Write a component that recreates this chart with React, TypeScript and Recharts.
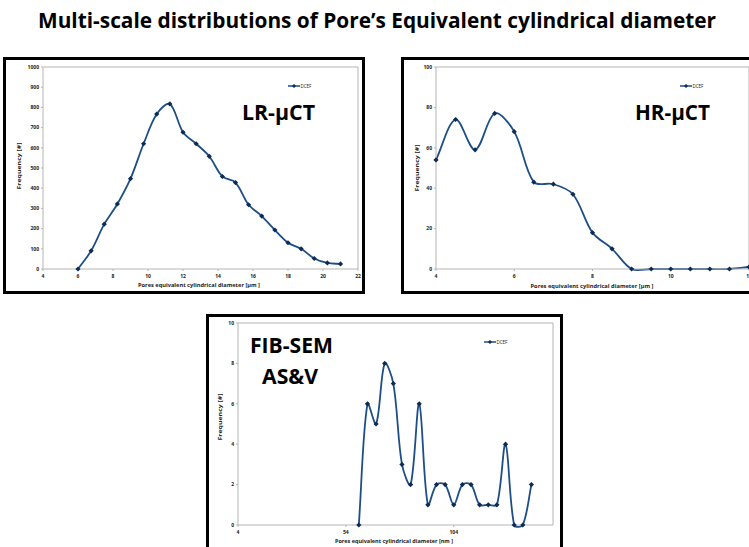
import { LineChart, Line, XAxis, YAxis, ReferenceLine } from "recharts";

// LR-µCT
const lrDiameter = [6, 6.75, 7.5, 8.25, 9, 9.75, 10.5, 11.25, 12, 12.75, 13.5, 14.25, 15, 15.75, 16.5, 17.25, 18, 18.75, 19.5, 20.25, 21];
const lrFrequency = [0, 90, 222, 322, 447, 620, 767, 817, 677, 620, 558, 458, 428, 318, 262, 193, 130, 100, 52, 30, 25];
const lrXTicks = [4, 6, 8, 10, 12, 14, 16, 18, 20, 22];
const lrYTicks = [0, 100, 200, 300, 400, 500, 600, 700, 800, 900, 1000];

// HR-µCT
const hrDiameter = [4, 4.5, 5, 5.5, 6, 6.5, 7, 7.5, 8, 8.5, 9, 9.5, 10, 10.5, 11, 11.5, 12];
const hrFrequency = [54, 74, 59, 77, 68, 43, 42, 37, 18, 10, 0, 0, 0, 0, 0, 0, 1];
const hrXTicks = [4, 6, 8, 10, 12];
const hrYTicks = [0, 20, 40, 60, 80, 100];

// FIB-SEM AS&V
const fibDiameter = [60, 64, 68, 72, 76, 80, 84, 88, 92, 96, 100, 104, 108, 112, 116, 120, 124, 128, 132, 136, 140];
const fibFrequency = [0, 6, 5, 8, 7, 3, 2, 6, 1, 2, 2, 1, 2, 2, 1, 1, 1, 4, 0, 0, 2];
const fibXTicks = [4, 54, 104];
const fibYTicks = [0, 2, 4, 6, 8, 10];

const LINE = "#1d4f86";
const MARKER = "#0f2b52";
const FRAME = "#b5b5b5";
const TEXT = "#222";
const FONT = "'Open Sans', 'Liberation Sans', sans-serif";

const toRows = (xs: number[], ys: number[]) => xs.map((x, i) => ({ x, y: ys[i] }));

const dist = (a: number[], b: number[]) => Math.hypot(b[0] - a[0], b[1] - a[1]) || 1e-6;

// Excel-like smoothed line: tangents scaled by neighbouring segment lengths
const excelSmooth = (context: any) => {
  let pts: number[][] = [];
  return {
    areaStart() {},
    areaEnd() {},
    lineStart() {
      pts = [];
    },
    point(x: number, y: number) {
      pts.push([+x, +y]);
    },
    lineEnd() {
      const n = pts.length;
      if (!n) return;
      context.moveTo(pts[0][0], pts[0][1]);
      for (let i = 0; i < n - 1; i++) {
        const p0 = pts[Math.max(i - 1, 0)];
        const p1 = pts[i];
        const p2 = pts[i + 1];
        const p3 = pts[Math.min(i + 2, n - 1)];
        const d01 = i > 0 ? dist(p0, p1) : 0;
        const d12 = dist(p1, p2);
        const d23 = i + 2 < n ? dist(p2, p3) : 0;
        const f1 = d12 / (d01 + d12) / 3;
        const f2 = d12 / (d12 + d23) / 3;
        context.bezierCurveTo(
          p1[0] + (p2[0] - p0[0]) * f1,
          p1[1] + (p2[1] - p0[1]) * f1,
          p2[0] - (p3[0] - p1[0]) * f2,
          p2[1] - (p3[1] - p1[1]) * f2,
          p2[0],
          p2[1]
        );
      }
    },
  };
};

const diamond = (props: any) => {
  const { cx, cy, index } = props;
  if (cx == null || cy == null) return <g key={`d-${index}`} />;
  const r = 2.6;
  return (
    <path
      key={`d-${index}`}
      d={`M${cx},${cy - r}L${cx + r},${cy}L${cx},${cy + r}L${cx - r},${cy}Z`}
      fill={MARKER}
    />
  );
};

const tickStyle = { fontSize: 5, fill: TEXT, fontWeight: 700, fontFamily: FONT };

interface PoreChartProps {
  left: number;
  top: number;
  width: number;
  height: number;
  yAxisWidth: number;
  margin: { top: number; right: number; bottom: number; left: number };
  xDomain: [number, number];
  xTicks: number[];
  yTicks: number[];
  rows: { x: number; y: number }[];
}

function PoreChart({ left, top, width, height, yAxisWidth, margin, xDomain, xTicks, yTicks, rows }: PoreChartProps) {
  const yMax = yTicks[yTicks.length - 1];
  return (
    <div style={{ position: "absolute", left, top }}>
      <LineChart width={width} height={height} data={rows} margin={margin}>
        <ReferenceLine y={yMax} stroke={FRAME} strokeWidth={1} />
        <ReferenceLine x={xDomain[1]} stroke={FRAME} strokeWidth={1} />
        <XAxis
          type="number"
          dataKey="x"
          domain={xDomain}
          ticks={xTicks}
          interval={0}
          height={12}
          tickSize={2}
          tickMargin={3}
          tick={tickStyle}
          stroke={FRAME}
        />
        <YAxis
          type="number"
          domain={[0, yMax]}
          ticks={yTicks}
          interval={0}
          width={yAxisWidth}
          tickSize={2}
          tickMargin={2}
          tick={tickStyle}
          stroke={FRAME}
        />
        <Line
          type={excelSmooth as any}
          dataKey="y"
          stroke={LINE}
          strokeWidth={1.8}
          dot={diamond}
          activeDot={false}
          isAnimationActive={false}
        />
      </LineChart>
    </div>
  );
}

function LegendMark({ x, y }: { x: number; y: number }) {
  return (
    <g>
      <line x1={x} y1={y} x2={x + 12} y2={y} stroke={LINE} strokeWidth={1.5} />
      <path d={`M${x + 6},${y - 2}L${x + 8},${y}L${x + 6},${y + 2}L${x + 4},${y}Z`} fill={MARKER} />
      <text x={x + 12.5} y={y + 1.6} fontSize={4.5} fill={TEXT} fontFamily={FONT}>
        DCEF
      </text>
    </g>
  );
}

const panelBorder = (left: number, top: number, width: number, height: number) => (
  <div
    style={{
      position: "absolute",
      left,
      top,
      width,
      height,
      border: "3px solid #000",
      boxSizing: "border-box",
      background: "#fff",
    }}
  />
);

export default function App() {
  return (
    <div
      style={{
        position: "fixed",
        left: 0,
        top: 0,
        width: 749,
        height: 547,
        overflow: "hidden",
        background: "#fff",
      }}
    >
      {panelBorder(3, 57, 362, 237)}
      {panelBorder(401, 57, 400, 237)}
      {panelBorder(206, 314, 357, 260)}

      <PoreChart
        left={6}
        top={60}
        width={357}
        height={232}
        yAxisWidth={37}
        margin={{ top: 7, right: 5, bottom: 11, left: 0 }}
        xDomain={[4, 22]}
        xTicks={lrXTicks}
        yTicks={lrYTicks}
        rows={toRows(lrDiameter, lrFrequency)}
      />
      <PoreChart
        left={403}
        top={60}
        width={351}
        height={232}
        yAxisWidth={33}
        margin={{ top: 7, right: 5, bottom: 11, left: 0 }}
        xDomain={[4, 12]}
        xTicks={hrXTicks}
        yTicks={hrYTicks}
        rows={toRows(hrDiameter, hrFrequency)}
      />
      <PoreChart
        left={209}
        top={317}
        width={352}
        height={230}
        yAxisWidth={29}
        margin={{ top: 6, right: 8, bottom: 10, left: 0 }}
        xDomain={[4, 150]}
        xTicks={fibXTicks}
        yTicks={fibYTicks}
        rows={toRows(fibDiameter, fibFrequency)}
      />

      <svg
        width={749}
        height={547}
        style={{ position: "absolute", left: 0, top: 0, pointerEvents: "none" }}
      >
        <text
          x={38}
          y={28}
          fontSize={21}
          fontWeight={700}
          fontFamily={FONT}
          fill="#000"
          textLength={678}
          lengthAdjust="spacingAndGlyphs"
        >
          Multi-scale distributions of Pore’s Equivalent cylindrical diameter
        </text>

        <text x={242} y={120} fontSize={22} fontWeight={700} fontFamily={FONT} textLength={73} lengthAdjust="spacingAndGlyphs">
          LR-μCT
        </text>
        <text x={635} y={120} fontSize={22} fontWeight={700} fontFamily={FONT} textLength={75} lengthAdjust="spacingAndGlyphs">
          HR-μCT
        </text>
        <text x={250} y={353} fontSize={22} fontWeight={700} fontFamily={FONT} textLength={83} lengthAdjust="spacingAndGlyphs">
          FIB-SEM
        </text>
        <text x={262} y={384} fontSize={22} fontWeight={700} fontFamily={FONT} textLength={56} lengthAdjust="spacingAndGlyphs">
          AS&amp;V
        </text>

        <LegendMark x={288} y={86} />
        <LegendMark x={680} y={86} />
        <LegendMark x={484} y={342} />

        <text x={199} y={287} fontSize={6} fontWeight={700} fontFamily={FONT} fill={TEXT} textAnchor="middle" textLength={122} lengthAdjust="spacingAndGlyphs">
          Pores equivalent cylindrical diameter [µm ]
        </text>
        <text x={592} y={288} fontSize={6} fontWeight={700} fontFamily={FONT} fill={TEXT} textAnchor="middle" textLength={123} lengthAdjust="spacingAndGlyphs">
          Pores equivalent cylindrical diameter [µm ]
        </text>
        <text x={394} y={543} fontSize={6} fontWeight={700} fontFamily={FONT} fill={TEXT} textAnchor="middle" textLength={118} lengthAdjust="spacingAndGlyphs">
          Pores equivalent cylindrical diameter [nm ]
        </text>

        <text transform="translate(21,166) rotate(-90)" fontSize={6} fontWeight={700} fontFamily={FONT} fill={TEXT} textAnchor="middle" textLength={47} lengthAdjust="spacingAndGlyphs">
          Frequency [#]
        </text>
        <text transform="translate(419,168) rotate(-90)" fontSize={6} fontWeight={700} fontFamily={FONT} fill={TEXT} textAnchor="middle" textLength={47} lengthAdjust="spacingAndGlyphs">
          Frequency [#]
        </text>
        <text transform="translate(222,417) rotate(-90)" fontSize={6} fontWeight={700} fontFamily={FONT} fill={TEXT} textAnchor="middle" textLength={47} lengthAdjust="spacingAndGlyphs">
          Frequency [#]
        </text>
      </svg>
    </div>
  );
}
